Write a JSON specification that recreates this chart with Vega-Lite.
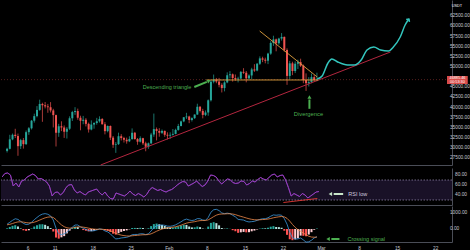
{
"$schema":"https://vega.github.io/schema/vega-lite/v6.json",
"background":"#000000",
"padding":0,
"spacing":1,
"config":{"view":{"stroke":null},"font":"Liberation Sans","axis":{"grid":false,"ticks":false,"domainColor":"#4a4d57","domainWidth":1,"labelColor":"#c5c8d0","labelFontSize":4.8,"labelFont":"Liberation Sans"}},
"datasets":{
"candles":[
{"t":1.25,"o":29331,"h":30100,"l":28946,"c":29850},
{"t":1.75,"o":29850,"h":33300,"l":29700,"c":32178},
{"t":2.25,"o":32176,"h":33600,"l":31963,"c":33300},
{"t":2.75,"o":33300,"h":34778,"l":32500,"c":33000},
{"t":3.25,"o":33000,"h":33600,"l":28130,"c":30500},
{"t":3.75,"o":30500,"h":32300,"l":29800,"c":31988},
{"t":4.25,"o":31989,"h":32500,"l":29900,"c":31000},
{"t":4.75,"o":31000,"h":34360,"l":30800,"c":33949},
{"t":5.25,"o":33950,"h":35200,"l":33288,"c":34900},
{"t":5.75,"o":34900,"h":36939,"l":34600,"c":36769},
{"t":6.25,"o":36770,"h":38500,"l":36300,"c":37900},
{"t":6.75,"o":37900,"h":40365,"l":37600,"c":39432},
{"t":7.25,"o":39433,"h":41950,"l":39200,"c":40900},
{"t":7.75,"o":40900,"h":41200,"l":36500,"c":40582},
{"t":8.25,"o":40587,"h":41380,"l":39800,"c":40300},
{"t":8.75,"o":40300,"h":40900,"l":38720,"c":40088},
{"t":9.25,"o":40088,"h":41350,"l":38800,"c":39300},
{"t":9.75,"o":39300,"h":39700,"l":35111,"c":38150},
{"t":10.25,"o":38150,"h":38264,"l":30420,"c":33800},
{"t":10.75,"o":33800,"h":36000,"l":32800,"c":35404},
{"t":11.25,"o":35410,"h":36628,"l":34200,"c":35100},
{"t":11.75,"o":35100,"h":35600,"l":32531,"c":34051},
{"t":12.25,"o":34049,"h":35200,"l":32380,"c":34800},
{"t":12.75,"o":34800,"h":37850,"l":34500,"c":37371},
{"t":13.25,"o":37371,"h":39200,"l":36701,"c":38900},
{"t":13.75,"o":38900,"h":40100,"l":38200,"c":39144},
{"t":14.25,"o":39145,"h":39747,"l":37000,"c":37500},
{"t":14.75,"o":37500,"h":38000,"l":34408,"c":36742},
{"t":15.25,"o":36737,"h":37950,"l":35900,"c":37000},
{"t":15.75,"o":37000,"h":37400,"l":35357,"c":35994},
{"t":16.25,"o":35994,"h":36300,"l":33850,"c":34600},
{"t":16.75,"o":34600,"h":36852,"l":34400,"c":35828},
{"t":17.25,"o":35825,"h":36400,"l":34800,"c":36200},
{"t":17.75,"o":36200,"h":37469,"l":35800,"c":36631},
{"t":18.25,"o":36622,"h":37850,"l":36300,"c":37200},
{"t":18.75,"o":37200,"h":37400,"l":35844,"c":35891},
{"t":19.25,"o":35901,"h":36415,"l":33400,"c":34200},
{"t":19.75,"o":34200,"h":35600,"l":33900,"c":35468},
{"t":20.25,"o":35468,"h":35600,"l":32000,"c":32600},
{"t":20.75,"o":32600,"h":33000,"l":30071,"c":30850},
{"t":21.25,"o":30851,"h":31500,"l":28850,"c":31000},
{"t":21.75,"o":31000,"h":33826,"l":30800,"c":32945},
{"t":22.25,"o":32950,"h":33456,"l":31900,"c":32500},
{"t":22.75,"o":32500,"h":32800,"l":31390,"c":32078},
{"t":23.25,"o":32078,"h":32600,"l":31106,"c":31700},
{"t":23.75,"o":31700,"h":32944,"l":31500,"c":32259},
{"t":24.25,"o":32259,"h":34875,"l":32053,"c":33800},
{"t":24.75,"o":33800,"h":34000,"l":32100,"c":32254},
{"t":25.25,"o":32251,"h":32500,"l":30837,"c":31600},
{"t":25.75,"o":31600,"h":32921,"l":31400,"c":32467},
{"t":26.25,"o":32464,"h":32557,"l":30800,"c":31200},
{"t":26.75,"o":31200,"h":31600,"l":29241,"c":30366},
{"t":27.25,"o":30362,"h":31400,"l":29842,"c":31200},
{"t":27.75,"o":31200,"h":33783,"l":31000,"c":33364},
{"t":28.25,"o":33368,"h":38531,"l":32800,"c":34700},
{"t":28.75,"o":34700,"h":35100,"l":31915,"c":34252},
{"t":29.25,"o":34246,"h":34933,"l":32825,"c":33800},
{"t":29.75,"o":33800,"h":34600,"l":33500,"c":34262},
{"t":30.25,"o":34262,"h":34342,"l":32800,"c":33300},
{"t":30.75,"o":33300,"h":33900,"l":32171,"c":33092},
{"t":31.25,"o":33092,"h":33900,"l":32296,"c":33300},
{"t":31.75,"o":33300,"h":34717,"l":33100,"c":33526},
{"t":32.25,"o":33517,"h":34800,"l":33418,"c":34500},
{"t":32.75,"o":34500,"h":35984,"l":34300,"c":35466},
{"t":33.25,"o":35472,"h":36800,"l":35362,"c":36600},
{"t":33.75,"o":36600,"h":37662,"l":36400,"c":37618},
{"t":34.25,"o":37620,"h":38708,"l":37200,"c":37800},
{"t":34.75,"o":37800,"h":38000,"l":36161,"c":36936},
{"t":35.25,"o":36936,"h":37600,"l":36570,"c":37400},
{"t":35.75,"o":37400,"h":38310,"l":37200,"c":38290},
{"t":36.25,"o":38289,"h":40955,"l":38215,"c":40200},
{"t":36.75,"o":40200,"h":40400,"l":38800,"c":39186},
{"t":37.25,"o":39181,"h":39700,"l":37351,"c":38200},
{"t":37.75,"o":38200,"h":39300,"l":37900,"c":38795},
{"t":38.25,"o":38795,"h":42000,"l":37988,"c":41800},
{"t":38.75,"o":41800,"h":46794,"l":41500,"c":46374},
{"t":39.25,"o":46374,"h":48142,"l":45976,"c":46900},
{"t":39.75,"o":46900,"h":47300,"l":46000,"c":46420},
{"t":40.25,"o":46420,"h":47310,"l":45000,"c":45600},
{"t":40.75,"o":45600,"h":46000,"l":43727,"c":44807},
{"t":41.25,"o":44808,"h":46500,"l":43994,"c":46200},
{"t":41.75,"o":46200,"h":48678,"l":46000,"c":47969},
{"t":42.25,"o":47968,"h":48985,"l":47200,"c":48200},
{"t":42.75,"o":48200,"h":48400,"l":46400,"c":47287},
{"t":43.25,"o":47298,"h":48150,"l":46600,"c":47000},
{"t":43.75,"o":47000,"h":47600,"l":46202,"c":47153},
{"t":44.25,"o":47156,"h":49000,"l":47014,"c":48800},
{"t":44.75,"o":48800,"h":49707,"l":48300,"c":48577},
{"t":45.25,"o":48580,"h":49010,"l":46222,"c":47200},
{"t":45.75,"o":47200,"h":48200,"l":46900,"c":47911},
{"t":46.25,"o":47911,"h":49800,"l":47003,"c":49400},
{"t":46.75,"o":49400,"h":50689,"l":48800,"c":49133},
{"t":47.25,"o":49133,"h":51000,"l":48947,"c":50800},
{"t":47.75,"o":50800,"h":52618,"l":50500,"c":52119},
{"t":48.25,"o":52117,"h":52530,"l":51200,"c":51800},
{"t":48.75,"o":51800,"h":52300,"l":50901,"c":51552},
{"t":49.25,"o":51552,"h":53500,"l":50710,"c":53300},
{"t":49.75,"o":53300,"h":56368,"l":53000,"c":55906},
{"t":50.25,"o":55906,"h":57700,"l":55200,"c":56800},
{"t":50.75,"o":56800,"h":57000,"l":53863,"c":55841},
{"t":51.25,"o":55841,"h":57200,"l":55477,"c":57000},
{"t":51.75,"o":57000,"h":58352,"l":56500,"c":57408},
{"t":52.25,"o":57412,"h":57508,"l":53800,"c":54200},
{"t":52.75,"o":54200,"h":54600,"l":45600,"c":47800},
{"t":53.25,"o":47800,"h":51500,"l":47000,"c":50900},
{"t":53.75,"o":50900,"h":51300,"l":48000,"c":49000},
{"t":54.25,"o":49000,"h":51374,"l":48500,"c":50800},
{"t":54.75,"o":50800,"h":51800,"l":49500,"c":51200},
{"t":55.25,"o":51200,"h":52042,"l":50000,"c":50300},
{"t":55.75,"o":50300,"h":50600,"l":46000,"c":46800},
{"t":56.25,"o":46800,"h":48424,"l":44106,"c":46000},
{"t":56.75,"o":46000,"h":47500,"l":45200,"c":46276},
{"t":57.25,"o":46277,"h":48394,"l":46000,"c":47500},
{"t":57.75,"o":47500,"h":48000,"l":46400,"c":46800},
{"t":58.25,"o":46800,"h":48600,"l":46500,"c":46885}
],
"ind":[
{"t":1.25,"rsi":76,"macd":300,"sig":260,"hist":40},
{"t":1.75,"rsi":83,"macd":420,"sig":292,"hist":128},
{"t":2.25,"rsi":84,"macd":540,"sig":342,"hist":198},
{"t":2.75,"rsi":80,"macd":640,"sig":402,"hist":238},
{"t":3.25,"rsi":58,"macd":600,"sig":442,"hist":158},
{"t":3.75,"rsi":64,"macd":480,"sig":450,"hist":30},
{"t":4.25,"rsi":56,"macd":350,"sig":430,"hist":-80},
{"t":4.75,"rsi":68,"macd":280,"sig":400,"hist":-120},
{"t":5.25,"rsi":70,"macd":300,"sig":380,"hist":-80},
{"t":5.75,"rsi":76,"macd":420,"sig":388,"hist":32},
{"t":6.25,"rsi":79,"macd":580,"sig":426,"hist":154},
{"t":6.75,"rsi":82,"macd":720,"sig":485,"hist":235},
{"t":7.25,"rsi":79,"macd":850,"sig":558,"hist":292},
{"t":7.75,"rsi":72,"macd":930,"sig":632,"hist":298},
{"t":8.25,"rsi":73,"macd":960,"sig":698,"hist":262},
{"t":8.75,"rsi":70,"macd":920,"sig":742,"hist":178},
{"t":9.25,"rsi":66,"macd":820,"sig":758,"hist":62},
{"t":9.75,"rsi":58,"macd":560,"sig":718,"hist":-158},
{"t":10.25,"rsi":38,"macd":50,"sig":584,"hist":-534},
{"t":10.75,"rsi":45,"macd":-300,"sig":407,"hist":-600},
{"t":11.25,"rsi":46,"macd":-350,"sig":256,"hist":-520},
{"t":11.75,"rsi":40,"macd":-300,"sig":145,"hist":-445},
{"t":12.25,"rsi":45,"macd":-200,"sig":76,"hist":-276},
{"t":12.75,"rsi":55,"macd":-50,"sig":51,"hist":-101},
{"t":13.25,"rsi":60,"macd":120,"sig":65,"hist":55},
{"t":13.75,"rsi":61,"macd":250,"sig":102,"hist":148},
{"t":14.25,"rsi":50,"macd":250,"sig":132,"hist":118},
{"t":14.75,"rsi":44,"macd":130,"sig":132,"hist":-2},
{"t":15.25,"rsi":47,"macd":50,"sig":116,"hist":-66},
{"t":15.75,"rsi":43,"macd":-20,"sig":89,"hist":-109},
{"t":16.25,"rsi":40,"macd":-100,"sig":51,"hist":-151},
{"t":16.75,"rsi":46,"macd":-120,"sig":17,"hist":-137},
{"t":17.25,"rsi":48,"macd":-110,"sig":-8,"hist":-102},
{"t":17.75,"rsi":50,"macd":-60,"sig":-18,"hist":-42},
{"t":18.25,"rsi":52,"macd":0,"sig":-14,"hist":14},
{"t":18.75,"rsi":45,"macd":-20,"sig":-15,"hist":-5},
{"t":19.25,"rsi":40,"macd":-120,"sig":-36,"hist":-84},
{"t":19.75,"rsi":46,"macd":-180,"sig":-65,"hist":-115},
{"t":20.25,"rsi":38,"macd":-300,"sig":-112,"hist":-188},
{"t":20.75,"rsi":33,"macd":-480,"sig":-186,"hist":-294},
{"t":21.25,"rsi":32,"macd":-620,"sig":-273,"hist":-347},
{"t":21.75,"rsi":44,"macd":-600,"sig":-338,"hist":-262},
{"t":22.25,"rsi":42,"macd":-560,"sig":-382,"hist":-178},
{"t":22.75,"rsi":40,"macd":-540,"sig":-414,"hist":-126},
{"t":23.25,"rsi":38,"macd":-520,"sig":-435,"hist":-85},
{"t":23.75,"rsi":42,"macd":-460,"sig":-440,"hist":-20},
{"t":24.25,"rsi":48,"macd":-360,"sig":-424,"hist":64},
{"t":24.75,"rsi":42,"macd":-340,"sig":-407,"hist":67},
{"t":25.25,"rsi":39,"macd":-340,"sig":-394,"hist":54},
{"t":25.75,"rsi":43,"macd":-300,"sig":-375,"hist":75},
{"t":26.25,"rsi":40,"macd":-300,"sig":-360,"hist":60},
{"t":26.75,"rsi":36,"macd":-350,"sig":-358,"hist":8},
{"t":27.25,"rsi":41,"macd":-300,"sig":-346,"hist":46},
{"t":27.75,"rsi":50,"macd":-120,"sig":-301,"hist":181},
{"t":28.25,"rsi":55,"macd":80,"sig":-225,"hist":305},
{"t":28.75,"rsi":52,"macd":200,"sig":-140,"hist":340},
{"t":29.25,"rsi":49,"macd":230,"sig":-66,"hist":296},
{"t":29.75,"rsi":51,"macd":250,"sig":-3,"hist":253},
{"t":30.25,"rsi":48,"macd":230,"sig":44,"hist":186},
{"t":30.75,"rsi":46,"macd":180,"sig":71,"hist":109},
{"t":31.25,"rsi":49,"macd":170,"sig":91,"hist":79},
{"t":31.75,"rsi":51,"macd":200,"sig":113,"hist":87},
{"t":32.25,"rsi":55,"macd":260,"sig":142,"hist":118},
{"t":32.75,"rsi":60,"macd":350,"sig":184,"hist":166},
{"t":33.25,"rsi":64,"macd":450,"sig":237,"hist":213},
{"t":33.75,"rsi":67,"macd":560,"sig":302,"hist":258},
{"t":34.25,"rsi":66,"macd":620,"sig":366,"hist":254},
{"t":34.75,"rsi":58,"macd":560,"sig":405,"hist":155},
{"t":35.25,"rsi":61,"macd":530,"sig":430,"hist":100},
{"t":35.75,"rsi":64,"macd":560,"sig":456,"hist":104},
{"t":36.25,"rsi":68,"macd":650,"sig":495,"hist":155},
{"t":36.75,"rsi":62,"macd":640,"sig":524,"hist":116},
{"t":37.25,"rsi":57,"macd":560,"sig":531,"hist":29},
{"t":37.75,"rsi":60,"macd":540,"sig":533,"hist":7},
{"t":38.25,"rsi":68,"macd":720,"sig":570,"hist":150},
{"t":38.75,"rsi":80,"macd":1050,"sig":666,"hist":384},
{"t":39.25,"rsi":79,"macd":1200,"sig":773,"hist":427},
{"t":39.75,"rsi":76,"macd":1230,"sig":864,"hist":366},
{"t":40.25,"rsi":68,"macd":1150,"sig":921,"hist":229},
{"t":40.75,"rsi":62,"macd":1000,"sig":937,"hist":63},
{"t":41.25,"rsi":67,"macd":960,"sig":942,"hist":18},
{"t":41.75,"rsi":72,"macd":990,"sig":952,"hist":38},
{"t":42.25,"rsi":71,"macd":960,"sig":954,"hist":6},
{"t":42.75,"rsi":65,"macd":860,"sig":935,"hist":-75},
{"t":43.25,"rsi":63,"macd":760,"sig":900,"hist":-140},
{"t":43.75,"rsi":64,"macd":600,"sig":840,"hist":-240},
{"t":44.25,"rsi":68,"macd":580,"sig":788,"hist":-208},
{"t":44.75,"rsi":67,"macd":560,"sig":742,"hist":-182},
{"t":45.25,"rsi":60,"macd":480,"sig":690,"hist":-210},
{"t":45.75,"rsi":63,"macd":440,"sig":640,"hist":-200},
{"t":46.25,"rsi":68,"macd":460,"sig":604,"hist":-144},
{"t":46.75,"rsi":66,"macd":480,"sig":579,"hist":-99},
{"t":47.25,"rsi":71,"macd":540,"sig":571,"hist":-31},
{"t":47.75,"rsi":75,"macd":600,"sig":577,"hist":23},
{"t":48.25,"rsi":72,"macd":640,"sig":590,"hist":50},
{"t":48.75,"rsi":70,"macd":640,"sig":600,"hist":40},
{"t":49.25,"rsi":75,"macd":700,"sig":620,"hist":80},
{"t":49.75,"rsi":80,"macd":800,"sig":656,"hist":144},
{"t":50.25,"rsi":82,"macd":880,"sig":701,"hist":179},
{"t":50.75,"rsi":76,"macd":860,"sig":733,"hist":127},
{"t":51.25,"rsi":79,"macd":880,"sig":762,"hist":118},
{"t":51.75,"rsi":80,"macd":860,"sig":782,"hist":78},
{"t":52.25,"rsi":70,"macd":650,"sig":756,"hist":-106},
{"t":52.75,"rsi":55,"macd":300,"sig":665,"hist":-365},
{"t":53.25,"rsi":38,"macd":-200,"sig":492,"hist":-640},
{"t":53.75,"rsi":43,"macd":-550,"sig":284,"hist":-700},
{"t":54.25,"rsi":40,"macd":-620,"sig":103,"hist":-650},
{"t":54.75,"rsi":37,"macd":-620,"sig":-42,"hist":-578},
{"t":55.25,"rsi":43,"macd":-560,"sig":-146,"hist":-414},
{"t":55.75,"rsi":40,"macd":-680,"sig":-253,"hist":-427},
{"t":56.25,"rsi":34,"macd":-820,"sig":-366,"hist":-454},
{"t":56.75,"rsi":38,"macd":-800,"sig":-453,"hist":-347},
{"t":57.25,"rsi":42,"macd":-700,"sig":-502,"hist":-198},
{"t":57.75,"rsi":46,"macd":-560,"sig":-514,"hist":-46},
{"t":58.25,"rsi":47,"macd":-480,"sig":-507,"hist":27}
],
"lines":[
{"id":"red","t":18.46,"p":25862},{"id":"red","t":71.77,"p":53695},
{"id":"desc","t":47.72,"p":58867},{"id":"desc","t":58.31,"p":47537},
{"id":"horiz","t":37.9,"p":46800},{"id":"horiz","t":58.5,"p":46800},
{"id":"proj","t":58.31,"p":47044},{"id":"proj","t":59.21,"p":47783},{"id":"proj","t":60.28,"p":50985},{"id":"proj","t":61.0,"p":51970},{"id":"proj","t":62.08,"p":51232},{"id":"proj","t":63.87,"p":50493},{"id":"proj","t":65.13,"p":50493},{"id":"proj","t":66.39,"p":51724},{"id":"proj","t":67.46,"p":54187},{"id":"proj","t":68.72,"p":54926},{"id":"proj","t":69.98,"p":54187},{"id":"proj","t":71.41,"p":53941},{"id":"proj","t":72.31,"p":54926},{"id":"proj","t":73.57,"p":57389},{"id":"proj","t":74.47,"p":60345},{"id":"proj","t":75.18,"p":61823},
{"id":"arr1","t":35.69,"p":45074},{"id":"arr1","t":38.0,"p":46330},
{"id":"arr2","t":56.87,"p":39700},{"id":"arr2","t":56.87,"p":42000}
],
"pticks":[{"p":27500},{"p":30000},{"p":32500},{"p":35000},{"p":37500},{"p":40000},{"p":42500},{"p":45000},{"p":50000},{"p":52500},{"p":55000},{"p":57500},{"p":60000},{"p":62500}],
"rticks":[{"r":40},{"r":60},{"r":80}],
"mticks":[{"m":0},{"m":1000}]
},
"vconcat":[
{"width":451,"height":165,
 "layer":[
  {"data":{"name":"candles"},"mark":{"type":"rule","strokeWidth":0.7},
   "encoding":{"x":{"field":"t","type":"quantitative","scale":{"domain":[1.05,82.18],"nice":false,"zero":false},"axis":{"title":null,"labels":false,"domain":true}},
    "y":{"field":"l","type":"quantitative","scale":{"domain":[25860,66500],"nice":false,"zero":false},"axis":{"title":null,"orient":"right","labels":false,"domain":true}},
    "y2":{"field":"h"},
    "color":{"condition":{"test":"datum.c>=datum.o","value":"#26a69a"},"value":"#ef5350"}}},
  {"data":{"values":[{"p":46885}]},"mark":{"type":"rule","color":"#ef5350","strokeDash":[1,2],"strokeWidth":0.6,"opacity":0.6},
   "encoding":{"y":{"field":"p","type":"quantitative","scale":{"domain":[25860,66500],"nice":false,"zero":false},"axis":{"title":null}}}},
  {"data":{"name":"candles"},"mark":{"type":"bar","size":2},
   "encoding":{"x":{"field":"t","type":"quantitative","scale":{"domain":[1.05,82.18],"nice":false,"zero":false},"axis":{"title":null}},
    "y":{"field":"o","type":"quantitative","scale":{"domain":[25860,66500],"nice":false,"zero":false},"axis":{"title":null}},
    "y2":{"field":"c"},
    "color":{"condition":{"test":"datum.c>=datum.o","value":"#26a69a"},"value":"#ef5350"}}},
  {"data":{"name":"lines"},"transform":[{"filter":"datum.id=='red'"}],"mark":{"type":"line","color":"#b3263f","strokeWidth":1},
   "encoding":{"x":{"field":"t","type":"quantitative","scale":{"domain":[1.05,82.18],"nice":false,"zero":false},"axis":{"title":null}},
    "y":{"field":"p","type":"quantitative","scale":{"domain":[25860,66500],"nice":false,"zero":false},"axis":{"title":null}}}},
  {"data":{"name":"lines"},"transform":[{"filter":"datum.id=='desc' || datum.id=='horiz'"}],"mark":{"type":"line","color":"#e0a040","strokeWidth":0.9},
   "encoding":{"x":{"field":"t","type":"quantitative","scale":{"domain":[1.05,82.18],"nice":false,"zero":false},"axis":{"title":null}},
    "y":{"field":"p","type":"quantitative","scale":{"domain":[25860,66500],"nice":false,"zero":false},"axis":{"title":null}},
    "detail":{"field":"id"}}},
  {"data":{"name":"lines"},"transform":[{"filter":"datum.id=='proj'"}],"mark":{"type":"line","color":"#33c5bd","strokeWidth":1.5,"interpolate":"monotone"},
   "encoding":{"x":{"field":"t","type":"quantitative","scale":{"domain":[1.05,82.18],"nice":false,"zero":false},"axis":{"title":null}},
    "y":{"field":"p","type":"quantitative","scale":{"domain":[25860,66500],"nice":false,"zero":false},"axis":{"title":null}}}},
  {"data":{"values":[{"t":75.18,"p":61823}]},"mark":{"type":"point","shape":"M-1,-1L0,0L-1,1","filled":false,"color":"#33c5bd","strokeWidth":1.4,"size":16,"angle":304,"opacity":1},
   "encoding":{"x":{"field":"t","type":"quantitative","scale":{"domain":[1.05,82.18],"nice":false,"zero":false},"axis":{"title":null}},
    "y":{"field":"p","type":"quantitative","scale":{"domain":[25860,66500],"nice":false,"zero":false},"axis":{"title":null}}}},
  {"data":{"name":"lines"},"transform":[{"filter":"datum.id=='arr1' || datum.id=='arr2'"}],"mark":{"type":"line","color":"#4caf50","strokeWidth":2},
   "encoding":{"x":{"field":"t","type":"quantitative","scale":{"domain":[1.05,82.18],"nice":false,"zero":false},"axis":{"title":null}},
    "y":{"field":"p","type":"quantitative","scale":{"domain":[25860,66500],"nice":false,"zero":false},"axis":{"title":null}},
    "detail":{"field":"id"}}},
  {"data":{"values":[{"t":38.39,"p":46552}]},"mark":{"type":"point","shape":"triangle-right","filled":true,"color":"#4caf50","size":16,"angle":338,"opacity":1},
   "encoding":{"x":{"field":"t","type":"quantitative","scale":{"domain":[1.05,82.18],"nice":false,"zero":false},"axis":{"title":null}},
    "y":{"field":"p","type":"quantitative","scale":{"domain":[25860,66500],"nice":false,"zero":false},"axis":{"title":null}}}},
  {"data":{"values":[{"t":56.87,"p":42610}]},"mark":{"type":"point","shape":"triangle-up","filled":true,"color":"#4caf50","size":16,"opacity":1},
   "encoding":{"x":{"field":"t","type":"quantitative","scale":{"domain":[1.05,82.18],"nice":false,"zero":false},"axis":{"title":null}},
    "y":{"field":"p","type":"quantitative","scale":{"domain":[25860,66500],"nice":false,"zero":false},"axis":{"title":null}}}},
  {"data":{"values":[{"t":35.15,"p":45074,"label":"Descending triangle"}]},"mark":{"type":"text","align":"right","baseline":"middle","color":"#4caf50","fontSize":5.5,"font":"Liberation Sans"},
   "encoding":{"x":{"field":"t","type":"quantitative","scale":{"domain":[1.05,82.18],"nice":false,"zero":false},"axis":{"title":null}},
    "y":{"field":"p","type":"quantitative","scale":{"domain":[25860,66500],"nice":false,"zero":false},"axis":{"title":null}},"text":{"field":"label"}}},
  {"data":{"values":[{"t":56.7,"p":38424,"label":"Divergence"}]},"mark":{"type":"text","align":"center","baseline":"middle","color":"#4caf50","fontSize":5.8,"font":"Liberation Sans"},
   "encoding":{"x":{"field":"t","type":"quantitative","scale":{"domain":[1.05,82.18],"nice":false,"zero":false},"axis":{"title":null}},
    "y":{"field":"p","type":"quantitative","scale":{"domain":[25860,66500],"nice":false,"zero":false},"axis":{"title":null}},"text":{"field":"label"}}},
  {"data":{"name":"pticks"},"mark":{"type":"text","align":"left","baseline":"middle","color":"#c5c8d0","fontSize":4.8,"font":"Liberation Sans"},
   "encoding":{"x":{"datum":82.72,"type":"quantitative","scale":{"domain":[1.05,82.18],"nice":false,"zero":false},"axis":{"title":null}},
    "y":{"field":"p","type":"quantitative","scale":{"domain":[25860,66500],"nice":false,"zero":false},"axis":{"title":null}},"text":{"field":"p","type":"quantitative","format":".2f"}}},
  {"data":{"values":[{"t0":82.18,"t1":86.0,"p0":45813,"p1":47783}]},"mark":{"type":"rect","color":"#ef5350","opacity":0.9},
   "encoding":{"x":{"field":"t0","type":"quantitative","scale":{"domain":[1.05,82.18],"nice":false,"zero":false},"axis":{"title":null}},"x2":{"field":"t1"},
    "y":{"field":"p0","type":"quantitative","scale":{"domain":[25860,66500],"nice":false,"zero":false},"axis":{"title":null}},"y2":{"field":"p1"}}},
  {"data":{"values":[{"t":84.1,"p":47290,"label":"46885.46"},{"t":84.1,"p":46300,"label":"00:53:30"},{"t":84.0,"p":65000,"label":"USDT"}]},"mark":{"type":"text","align":"center","baseline":"middle","color":"#ffffff","fontSize":3.8,"font":"Liberation Sans"},
   "encoding":{"x":{"field":"t","type":"quantitative","scale":{"domain":[1.05,82.18],"nice":false,"zero":false},"axis":{"title":null}},
    "y":{"field":"p","type":"quantitative","scale":{"domain":[25860,66500],"nice":false,"zero":false},"axis":{"title":null}},"text":{"field":"label"}}}
 ]},
{"width":451,"height":37,
 "layer":[
  {"data":{"name":"ind"},"mark":{"type":"line","color":"#9b3fc4","strokeWidth":0.8},
   "encoding":{"x":{"field":"t","type":"quantitative","scale":{"domain":[1.05,82.18],"nice":false,"zero":false},"axis":{"title":null,"labels":false,"domain":true}},
    "y":{"field":"rsi","type":"quantitative","scale":{"domain":[20,94],"nice":false,"zero":false},"axis":{"title":null,"orient":"right","labels":false,"domain":true}}}},
  {"data":{"values":[{"a":30,"b":70}]},"mark":{"type":"rect","color":"#7e57c2","opacity":0.2},
   "encoding":{"y":{"field":"a","type":"quantitative","scale":{"domain":[20,94],"nice":false,"zero":false},"axis":{"title":null}},"y2":{"field":"b"}}},
  {"data":{"values":[{"v":30},{"v":70}]},"mark":{"type":"rule","color":"#9e8fb8","strokeDash":[1.5,1.5],"strokeWidth":0.7},
   "encoding":{"y":{"field":"v","type":"quantitative","scale":{"domain":[20,94],"nice":false,"zero":false},"axis":{"title":null}}}},
  {"data":{"name":"ind"},"mark":{"type":"line","color":"#9b3fc4","strokeWidth":0.8},
   "encoding":{"x":{"field":"t","type":"quantitative","scale":{"domain":[1.05,82.18],"nice":false,"zero":false},"axis":{"title":null}},
    "y":{"field":"rsi","type":"quantitative","scale":{"domain":[20,94],"nice":false,"zero":false},"axis":{"title":null}}}},
  {"data":{"values":[{"t":51.85,"r":25},{"t":57.95,"r":33}]},"mark":{"type":"line","color":"#e53935","strokeWidth":0.9},
   "encoding":{"x":{"field":"t","type":"quantitative","scale":{"domain":[1.05,82.18],"nice":false,"zero":false},"axis":{"title":null}},
    "y":{"field":"r","type":"quantitative","scale":{"domain":[20,94],"nice":false,"zero":false},"axis":{"title":null}}}},
  {"data":{"values":[{"t":62.6,"r":42},{"t":60.9,"r":42}]},"mark":{"type":"line","color":"#c8e6c9","strokeWidth":2},
   "encoding":{"x":{"field":"t","type":"quantitative","scale":{"domain":[1.05,82.18],"nice":false,"zero":false},"axis":{"title":null}},
    "y":{"field":"r","type":"quantitative","scale":{"domain":[20,94],"nice":false,"zero":false},"axis":{"title":null}}}},
  {"data":{"values":[{"t":60.3,"r":42}]},"mark":{"type":"point","shape":"triangle-left","filled":true,"color":"#c8e6c9","size":16,"opacity":1},
   "encoding":{"x":{"field":"t","type":"quantitative","scale":{"domain":[1.05,82.18],"nice":false,"zero":false},"axis":{"title":null}},
    "y":{"field":"r","type":"quantitative","scale":{"domain":[20,94],"nice":false,"zero":false},"axis":{"title":null}}}},
  {"data":{"values":[{"t":63.52,"r":42,"label":"RSI low"}]},"mark":{"type":"text","align":"left","baseline":"middle","color":"#cfc9dc","fontSize":5.5,"font":"Liberation Sans"},
   "encoding":{"x":{"field":"t","type":"quantitative","scale":{"domain":[1.05,82.18],"nice":false,"zero":false},"axis":{"title":null}},
    "y":{"field":"r","type":"quantitative","scale":{"domain":[20,94],"nice":false,"zero":false},"axis":{"title":null}},"text":{"field":"label"}}},
  {"data":{"name":"rticks"},"mark":{"type":"text","align":"left","baseline":"middle","color":"#c5c8d0","fontSize":4.8,"font":"Liberation Sans"},
   "encoding":{"x":{"datum":82.72,"type":"quantitative","scale":{"domain":[1.05,82.18],"nice":false,"zero":false},"axis":{"title":null}},
    "y":{"field":"r","type":"quantitative","scale":{"domain":[20,94],"nice":false,"zero":false},"axis":{"title":null}},"text":{"field":"r","type":"quantitative","format":".2f"}}}
 ]},
{"width":451,"height":36,
 "layer":[
  {"data":{"name":"ind"},"transform":[{"window":[{"op":"lag","field":"hist","as":"prev"}],"sort":[{"field":"t"}]}],"mark":{"type":"bar","size":2,"clip":true},
   "encoding":{"x":{"field":"t","type":"quantitative","scale":{"domain":[1.05,82.18],"nice":false,"zero":false},"axis":{"title":null,"values":[5,10,17,24,31,38,45,52,59,66,73,80],"labelExpr":"datum.value==31?'Feb':datum.value==59?'Mar':datum.value<31?''+(datum.value+1):datum.value<59?''+(datum.value-30):''+(datum.value-58)","labelPadding":3,"domain":true}},
    "y":{"field":"hist","type":"quantitative","scale":{"domain":[-812,1437],"nice":false,"zero":false},"axis":{"title":null,"orient":"right","labels":false,"domain":true}},
    "y2":{"datum":0},
    "color":{"condition":[{"test":"datum.hist>=0 && (datum.prev==null || datum.hist>=datum.prev)","value":"#26a69a"},{"test":"datum.hist>=0","value":"#b2dfdb"},{"test":"datum.prev==null || datum.hist<datum.prev","value":"#ff5252"}],"value":"#ffcdd2"}}},
  {"data":{"name":"ind"},"mark":{"type":"line","color":"#3d9be0","strokeWidth":0.8},
   "encoding":{"x":{"field":"t","type":"quantitative","scale":{"domain":[1.05,82.18],"nice":false,"zero":false},"axis":{"title":null}},
    "y":{"field":"macd","type":"quantitative","scale":{"domain":[-812,1437],"nice":false,"zero":false},"axis":{"title":null}}}},
  {"data":{"name":"ind"},"mark":{"type":"line","color":"#f08a4b","strokeWidth":0.8},
   "encoding":{"x":{"field":"t","type":"quantitative","scale":{"domain":[1.05,82.18],"nice":false,"zero":false},"axis":{"title":null}},
    "y":{"field":"sig","type":"quantitative","scale":{"domain":[-812,1437],"nice":false,"zero":false},"axis":{"title":null}}}},
  {"data":{"values":[{"t":62.4,"m":-625},{"t":60.9,"m":-625}]},"mark":{"type":"line","color":"#4caf50","strokeWidth":2},
   "encoding":{"x":{"field":"t","type":"quantitative","scale":{"domain":[1.05,82.18],"nice":false,"zero":false},"axis":{"title":null}},
    "y":{"field":"m","type":"quantitative","scale":{"domain":[-812,1437],"nice":false,"zero":false},"axis":{"title":null}}}},
  {"data":{"values":[{"t":60.3,"m":-625}]},"mark":{"type":"point","shape":"triangle-left","filled":true,"color":"#4caf50","size":16,"opacity":1},
   "encoding":{"x":{"field":"t","type":"quantitative","scale":{"domain":[1.05,82.18],"nice":false,"zero":false},"axis":{"title":null}},
    "y":{"field":"m","type":"quantitative","scale":{"domain":[-812,1437],"nice":false,"zero":false},"axis":{"title":null}}}},
  {"data":{"values":[{"t":63.87,"m":-625,"label":"Crossing signal"}]},"mark":{"type":"text","align":"left","baseline":"middle","color":"#4caf50","fontSize":5.5,"font":"Liberation Sans"},
   "encoding":{"x":{"field":"t","type":"quantitative","scale":{"domain":[1.05,82.18],"nice":false,"zero":false},"axis":{"title":null}},
    "y":{"field":"m","type":"quantitative","scale":{"domain":[-812,1437],"nice":false,"zero":false},"axis":{"title":null}},"text":{"field":"label"}}},
  {"data":{"name":"mticks"},"mark":{"type":"text","align":"left","baseline":"middle","color":"#c5c8d0","fontSize":4.8,"font":"Liberation Sans"},
   "encoding":{"x":{"datum":82.72,"type":"quantitative","scale":{"domain":[1.05,82.18],"nice":false,"zero":false},"axis":{"title":null}},
    "y":{"field":"m","type":"quantitative","scale":{"domain":[-812,1437],"nice":false,"zero":false},"axis":{"title":null}},"text":{"field":"m","type":"quantitative","format":".2f"}}}
 ]}
]
}
